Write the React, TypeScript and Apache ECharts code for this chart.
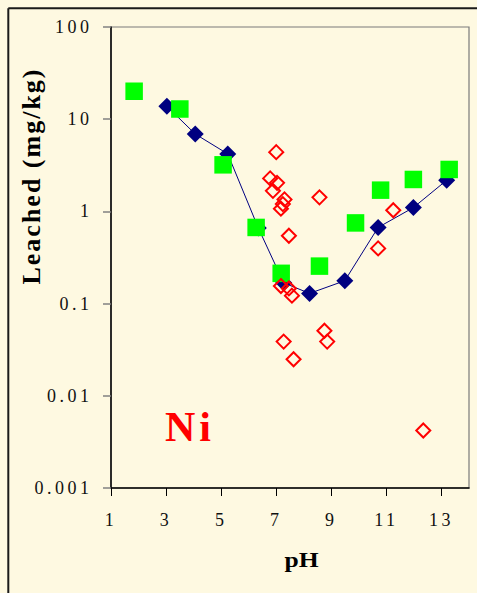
import React, { useEffect, useRef } from "react";
import * as echarts from "echarts";

// ---- data ----
const xTicks = [1, 3, 5, 7, 9, 11, 13];
const yTickLabels = ["0.001", "0.01", "0.1", "1", "10", "100"];

// blue line series (pH, leached mg/kg)
const bluePH = [3.03, 4.06, 5.24, 6.35, 7.27, 8.21, 9.49, 10.7, 11.98, 13.19];
const blueVal = [13.8, 6.9, 4.2, 0.66, 0.168, 0.129, 0.177, 0.67, 1.1, 2.18];

// green squares
const greenPH = [1.84, 3.5, 5.07, 6.27, 7.18, 8.57, 9.88, 10.79, 11.98, 13.28];
const greenVal = [20.1, 12.9, 3.2, 0.67, 0.213, 0.255, 0.75, 1.7, 2.22, 2.85];

// red open diamonds
const redPH = [7.0, 6.78, 7.03, 6.88, 7.3, 7.24, 7.17, 8.57, 7.46, 11.25, 10.7, 7.17, 7.46, 7.57, 7.27, 7.63, 8.75, 8.85, 12.34];
const redVal = [4.39, 2.28, 2.04, 1.67, 1.35, 1.2, 1.07, 1.42, 0.544, 1.03, 0.397, 0.155, 0.146, 0.122, 0.0387, 0.0249, 0.0508, 0.0387, 0.0042];

const xTitle = "pH";
const yTitle = "Leached (mg/kg)";
const panelLabel = "Ni";

const pairs = (xs: number[], ys: number[]) => xs.map((x, i) => [x, ys[i]]);

const SERIF = "'Liberation Serif', 'Times New Roman', serif";

const css = `
.nichart text[style*="18px"] { letter-spacing: 3.5px; }
.nichart text[style*="26px"] { letter-spacing: 2px; }
.nichart text[style*="42px"] { letter-spacing: 4px; }
`;

export default function App() {
  const ref = useRef<HTMLDivElement>(null);
  useEffect(() => {
    if (!ref.current) return;
    const chart = echarts.init(ref.current, undefined, { renderer: "svg" });
    chart.setOption({
      animation: false,
      backgroundColor: "#FEF9E1",
      grid: {
        left: 111,
        top: 27,
        width: 358,
        height: 461,
        show: true,
        borderColor: "#7a7a7a",
        borderWidth: 1.2,
        backgroundColor: "transparent",
      },
      xAxis: {
        type: "value",
        min: 1,
        max: 14,
        interval: 2,
        axisLine: { show: true, onZero: false, lineStyle: { color: "#000", width: 1.5 } },
        axisTick: { show: true, length: 8, lineStyle: { color: "#000", width: 1 }, customValues: xTicks },
        axisLabel: {
          customValues: xTicks,
          margin: 23,
          color: "#111",
          fontFamily: SERIF,
          fontSize: 18,
        },
        splitLine: { show: false },
      },
      yAxis: {
        type: "log",
        logBase: 10,
        min: 0.001,
        max: 100,
        axisLine: { show: true, lineStyle: { color: "#000", width: 1.5 } },
        axisTick: { show: true, length: 8, lineStyle: { color: "#808080", width: 1.5 } },
        axisLabel: {
          margin: 18.5,
          color: "#111",
          fontFamily: SERIF,
          fontSize: 18,
          formatter: (v: number) => yTickLabels[Math.round(Math.log10(v)) + 3] ?? "",
        },
        splitLine: { show: false },
      },
      series: [
        {
          type: "line",
          data: pairs(bluePH, blueVal),
          symbol: "diamond",
          symbolSize: 17,
          itemStyle: { color: "#000080", opacity: 1 },
          lineStyle: { color: "#000080", width: 1 },
          z: 2,
        },
        {
          type: "scatter",
          data: pairs(greenPH, greenVal),
          symbol: "rect",
          symbolSize: 17.5,
          itemStyle: { color: "#00FF00", opacity: 1 },
          z: 3,
        },
        {
          type: "scatter",
          data: pairs(redPH, redVal),
          symbol: "diamond",
          symbolSize: 14,
          itemStyle: { color: "transparent", borderColor: "#FF0000", borderWidth: 2, opacity: 1 },
          z: 4,
        },
      ],
      graphic: [
        { type: "line", shape: { x1: 8.3, y1: 8.3, x2: 8.3, y2: 600 }, style: { stroke: "#1a1a1a", lineWidth: 2 } },
        { type: "line", shape: { x1: 8.3, y1: 8.3, x2: 480, y2: 8.3 }, style: { stroke: "#1a1a1a", lineWidth: 2 } },
        {
          type: "text",
          x: 31,
          y: 176,
          rotation: Math.PI / 2,
          style: { text: yTitle, font: `bold 26px ${SERIF}`, fill: "#000", align: "center", verticalAlign: "middle" },
        },
        {
          type: "text",
          x: 301.5,
          y: 559.6,
          scaleX: 1.22,
          style: { text: xTitle, font: `bold 21px ${SERIF}`, fill: "#000", align: "center", verticalAlign: "middle" },
        },
        {
          type: "text",
          x: 165,
          y: 426.5,
          style: { text: panelLabel, font: `bold 42px ${SERIF}`, fill: "#FF0000", align: "left", verticalAlign: "middle" },
        },
      ],
    });
    return () => chart.dispose();
  }, []);
  return (
    <>
      <style>{css}</style>
      <div className="nichart" ref={ref} style={{ position: "absolute", left: 0, top: 0, width: 477, height: 593 }} />
    </>
  );
}
